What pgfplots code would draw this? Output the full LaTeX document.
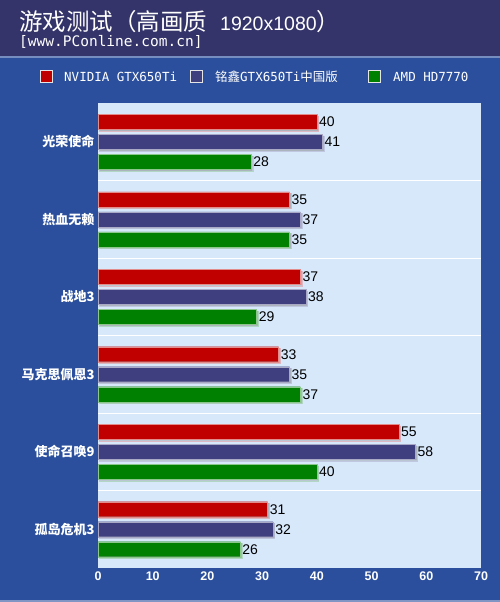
\documentclass[border=0pt]{standalone}
\usepackage{fontspec}
\usepackage{pgfplots}
\pgfplotsset{compat=1.18}
\usetikzlibrary{shadows}
\setmainfont{Liberation Sans}
\newfontfamily\cjk{Noto Sans CJK SC}
\newfontfamily\mono{DejaVu Sans Mono}
\definecolor{bgblue}{HTML}{2B4F9C}
\definecolor{topband}{HTML}{34346A}
\definecolor{plotbg}{HTML}{D7E8FB}
\definecolor{nvred}{HTML}{C00000}
\definecolor{mxpurple}{HTML}{3F3F80}
\definecolor{amdgreen}{HTML}{008000}

% idx 5 = top group
\pgfplotstableread{
idx nv mx amd
5 40 41 28
4 35 37 35
3 37 38 29
2 33 35 37
1 55 58 40
0 31 32 26
}\data

\begin{document}
\begin{tikzpicture}
  % background and title band
  \fill[bgblue] (0,0) rectangle (500bp,602bp);
  \fill[topband] (0,546bp) rectangle (500bp,602bp);
  \fill[bgblue!65!white] (0,544bp) rectangle (500bp,546bp);
  \fill[bgblue!60!white] (0,0) rectangle (500bp,2bp);
  \node[anchor=west, text=white, inner sep=0] at (19bp,580bp)
        {{\cjk\fontsize{23.5bp}{26bp}\selectfont 游戏测试（高画质}\hspace{13bp}%
         {\fontsize{19.5bp}{22bp}\selectfont 1920x1080}%
         {\cjk\fontsize{23.5bp}{26bp}\selectfont ）}};
  \node[anchor=west, text=white, inner sep=0,
        font=\mono\fontsize{14.5bp}{16bp}\selectfont] at (19bp,560bp)
        {[www.PConline.com.cn]};

  % legend
  \begin{scope}[every node/.style={anchor=west, text=white, inner sep=0,
        font=\mono\fontsize{12.5bp}{14bp}\selectfont}]
    \filldraw[fill=nvred, draw=white!80!gray, line width=1bp] (40bp,519bp) rectangle (52bp,531bp);
    \node at (64bp,525bp) {NVIDIA GTX650Ti};
    \filldraw[fill=mxpurple, draw=white!80!gray, line width=1bp] (190bp,519bp) rectangle (202bp,531bp);
    \node at (215bp,525bp) {{\cjk 铭鑫}GTX650Ti{\cjk 中国版}};
    \filldraw[fill=amdgreen, draw=white!80!gray, line width=1bp] (368bp,519bp) rectangle (380bp,531bp);
    \node at (393bp,525bp) {AMD HD7770};
  \end{scope}

  \begin{axis}[
      at={(98bp,34bp)}, anchor=south west,
      scale only axis, width=383bp, height=465bp,
      xmin=0, xmax=70, ymin=-0.5, ymax=5.5,
      xbar, bar width=15bp,
      axis background/.style={fill=plotbg},
      axis line style={draw=none},
      xtick={0,10,...,70},
      ytick={0,...,5},
      yticklabels={孤岛危机3,使命召唤9,马克思佩恩3,战地3,热血无赖,光荣使命},
      minor ytick={0.5,1.5,2.5,3.5,4.5},
      yminorgrids,
      minor grid style={white, line width=0.8bp},
      major tick length=0, minor tick length=0,
      tick label style={text=white},
      /pgf/number format/assume math mode=true,
      xticklabel style={font=\bfseries\fontsize{12.5bp}{14bp}\selectfont},
      yticklabel style={font=\cjk\bfseries\fontsize{13bp}{14bp}\selectfont},
      nodes near coords,
      nodes near coords style={text=black, anchor=west, inner sep=2bp,
        font=\fontsize{14bp}{16bp}\selectfont},
      clip=false,
    ]
    \addplot[fill=nvred, draw=nvred!45!white, bar shift=20bp,
      drop shadow={shadow xshift=1.5bp, shadow yshift=-1.5bp, fill=gray, opacity=0.5}]
      table[x=nv, y=idx] {\data};
    \addplot[fill=mxpurple, draw=mxpurple!45!white, bar shift=0bp,
      drop shadow={shadow xshift=1.5bp, shadow yshift=-1.5bp, fill=gray, opacity=0.5}]
      table[x=mx, y=idx] {\data};
    \addplot[fill=amdgreen, draw=amdgreen!45!white, bar shift=-20bp,
      drop shadow={shadow xshift=1.5bp, shadow yshift=-1.5bp, fill=gray, opacity=0.5}]
      table[x=amd, y=idx] {\data};
  \end{axis}
\end{tikzpicture}
\end{document}
